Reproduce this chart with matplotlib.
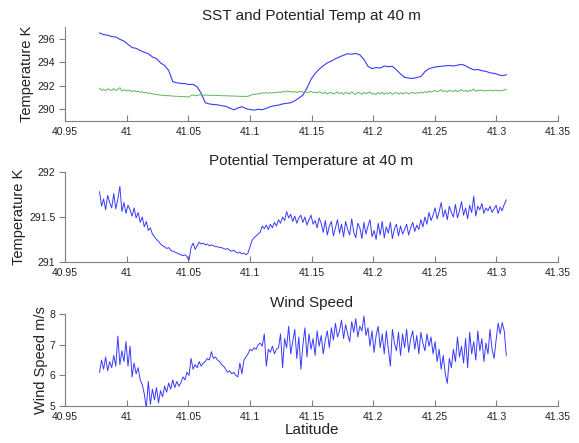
import matplotlib
matplotlib.use("Agg")
import matplotlib.pyplot as plt
import numpy as np

plt.rcParams['font.family'] = ['Liberation Sans', 'DejaVu Sans']

# SST along the track (K), evenly sampled from 40.978 to 41.308 deg N
sst = [296.49, 296.35, 296.30, 296.18, 296.15, 295.95, 295.80, 295.52, 295.25, 295.18,
       295.00, 294.85, 294.72, 294.45, 294.30, 293.95, 293.72, 293.30, 292.35, 292.25,
       292.20, 292.18, 292.10, 292.12, 291.90, 291.35, 290.55, 290.45, 290.40, 290.38,
       290.30, 290.25, 290.10, 289.95, 290.10, 290.22, 290.05, 289.98, 289.92, 290.00,
       289.95, 290.08, 290.22, 290.30, 290.35, 290.45, 290.50, 290.55, 290.72, 290.95,
       291.20, 291.80, 292.55, 293.05, 293.40, 293.70, 293.95, 294.10, 294.30, 294.45,
       294.60, 294.72, 294.68, 294.75, 294.62, 294.25, 293.65, 293.45, 293.55, 293.50,
       293.68, 293.62, 293.65, 293.35, 293.00, 292.72, 292.65, 292.62, 292.70, 292.78,
       293.20, 293.45, 293.55, 293.62, 293.65, 293.70, 293.72, 293.68, 293.75, 293.82,
       293.70, 293.50, 293.35, 293.38, 293.28, 293.22, 293.10, 293.05, 292.95, 292.85,
       292.93]

# potential temperature at 40 m (K)
theta = [291.78, 291.62, 291.70, 291.58, 291.74, 291.66, 291.60, 291.76, 291.59, 291.70,
         291.84, 291.56, 291.66, 291.54, 291.63, 291.58, 291.51, 291.60, 291.49, 291.55,
         291.44, 291.50, 291.39, 291.45, 291.35, 291.38, 291.31, 291.28, 291.25, 291.23,
         291.20, 291.18, 291.17, 291.15, 291.16, 291.13, 291.12, 291.11, 291.10, 291.09,
         291.08, 291.07, 291.08, 291.06, 291.02, 291.16, 291.21, 291.14, 291.18, 291.22,
         291.20, 291.21, 291.19, 291.20, 291.18, 291.19, 291.18, 291.17, 291.17, 291.16,
         291.16, 291.15, 291.14, 291.15, 291.13, 291.12, 291.13, 291.11, 291.10, 291.11,
         291.09, 291.10, 291.08, 291.10, 291.17, 291.24, 291.27, 291.29, 291.31, 291.33,
         291.40, 291.37, 291.41, 291.36, 291.42, 291.38, 291.44, 291.40, 291.47, 291.43,
         291.50, 291.46, 291.56, 291.49, 291.53, 291.45, 291.51, 291.43, 291.49, 291.52,
         291.44, 291.50, 291.41, 291.47, 291.52, 291.42, 291.46, 291.38, 291.49, 291.43,
         291.33, 291.46, 291.30, 291.40, 291.45, 291.29, 291.38, 291.47, 291.32, 291.42,
         291.28, 291.45, 291.36, 291.30, 291.48, 291.33, 291.27, 291.43, 291.38, 291.26,
         291.44, 291.31, 291.40, 291.47, 291.28, 291.35, 291.25, 291.43, 291.30, 291.45,
         291.27, 291.39, 291.32, 291.44, 291.26, 291.37, 291.42, 291.29, 291.40, 291.31,
         291.36, 291.42, 291.30, 291.38, 291.44, 291.34, 291.41, 291.36, 291.47, 291.39,
         291.50, 291.42, 291.55, 291.46, 291.52, 291.60, 291.48, 291.56, 291.66, 291.50,
         291.58, 291.47, 291.62, 291.55, 291.50, 291.64, 291.49, 291.57, 291.67, 291.52,
         291.60, 291.48, 291.63, 291.55, 291.73, 291.51, 291.62, 291.58, 291.65, 291.54,
         291.60, 291.57, 291.62, 291.55, 291.59, 291.63, 291.54, 291.61, 291.57, 291.64,
         291.69]

# wind speed (m/s)
wind = [6.10, 6.50, 6.20, 6.60, 6.15, 6.45, 6.25, 6.65, 6.30, 7.28,
        6.35, 6.80, 6.45, 7.10, 6.30, 6.95, 5.95, 6.40, 6.05, 6.25,
        5.85, 5.70, 5.40, 4.92, 5.80, 5.05, 5.55, 5.20, 5.60, 5.10,
        5.50, 5.30, 5.65, 5.45, 5.75, 5.55, 5.85, 5.60, 5.80, 5.65,
        5.75, 5.95, 5.85, 6.10, 6.00, 6.55, 6.20, 6.35, 6.25, 6.45,
        6.30, 6.40, 6.45, 6.55, 6.50, 6.77, 6.55, 6.60, 6.50, 6.45,
        6.35, 6.30, 6.20, 6.10, 6.15, 6.05, 6.10, 6.00, 5.95, 6.40,
        6.05, 6.50, 6.60, 6.70, 6.85, 6.80, 6.90, 6.85, 7.00, 7.05,
        6.95, 7.35, 6.30, 6.85, 6.75, 6.95, 6.70, 6.85, 6.90, 7.35,
        6.25, 7.20, 6.90, 7.60, 6.70, 7.10, 7.50, 6.55, 7.25, 6.20,
        7.00, 7.55, 6.60, 7.35, 6.85, 7.20, 6.65, 7.45, 6.95, 7.30,
        6.70, 7.15, 7.45, 6.90, 7.55, 7.15, 7.70, 7.25, 7.45, 7.80,
        7.20, 7.65, 7.35, 7.10, 7.75, 7.40, 7.85, 7.25, 7.60, 7.45,
        7.93, 7.30, 7.55, 6.95, 7.45, 6.75, 7.30, 7.60, 6.90, 7.35,
        6.70, 7.45, 6.85, 6.30, 7.50, 7.05, 6.80, 7.40, 6.65, 7.35,
        6.90, 7.50, 6.75, 7.20, 7.45, 6.85, 7.30, 6.70, 7.40, 7.05,
        6.80, 7.35, 6.95, 7.25, 6.70, 7.10, 6.45, 6.85, 6.20, 6.65,
        6.05, 5.74, 6.55, 6.25, 6.85, 6.45, 7.25, 6.60, 6.95, 6.40,
        7.20, 6.25, 7.40, 6.70, 7.10, 6.50, 7.45, 6.80, 7.20, 6.45,
        7.05, 6.70, 7.50, 6.85, 6.55, 7.15, 7.70, 7.35, 7.72, 7.45,
        6.65]

lat_start, lat_end = 40.978, 41.308
lat_sst = np.linspace(lat_start, lat_end, len(sst))
lat_theta = np.linspace(lat_start, lat_end, len(theta))
lat_wind = np.linspace(lat_start, lat_end, len(wind))

xticks = [40.95, 41.0, 41.05, 41.1, 41.15, 41.2, 41.25, 41.3, 41.35]
xticklabels = ['40.95', '41', '41.05', '41.1', '41.15', '41.2', '41.25', '41.3', '41.35']

blue = '#3a3aff'
green = '#5cb85c'
text_col = '#222222'

fig = plt.figure(figsize=(5.79, 4.43), dpi=100)
ax1 = fig.add_axes([0.1123, 0.7269, 0.8515, 0.2122])
ax2 = fig.add_axes([0.1123, 0.4086, 0.8515, 0.2032])
ax3 = fig.add_axes([0.1123, 0.0835, 0.8515, 0.2077])

ax1.plot(lat_sst, sst, color=blue, lw=0.8)
ax1.plot(lat_theta, theta, color=green, lw=0.7)
ax1.set_ylim(289, 297)
ax1.set_yticks([290, 292, 294, 296])
ax1.set_title('SST and Potential Temp at 40 m', fontsize=11, color=text_col, pad=5)
ax1.set_ylabel('Temperature K', fontsize=10.5, color=text_col)
ax1.yaxis.set_label_coords(-0.063, 0.5)

ax2.plot(lat_theta, theta, color=blue, lw=0.7)
ax2.set_ylim(291, 292)
ax2.set_yticks([291, 291.5, 292])
ax2.set_yticklabels(['291', '291.5', '292'])
ax2.set_title('Potential Temperature at 40 m', fontsize=11, color=text_col, pad=5)
ax2.set_ylabel('Temperature K', fontsize=10.5, color=text_col)
ax2.yaxis.set_label_coords(-0.079, 0.5)

ax3.plot(lat_wind, wind, color=blue, lw=0.7)
ax3.set_ylim(5, 8)
ax3.set_yticks([5, 6, 7, 8])
ax3.set_title('Wind Speed', fontsize=11, color=text_col, pad=5)
ax3.set_ylabel('Wind Speed m/s', fontsize=10.5, color=text_col)
ax3.yaxis.set_label_coords(-0.034, 0.5)
ax3.set_xlabel('Latitude', fontsize=11, color=text_col, labelpad=1)

for ax in (ax1, ax2, ax3):
    ax.set_xlim(40.95, 41.35)
    ax.set_xticks(xticks)
    ax.set_xticklabels(xticklabels)
    for side in ('top', 'right'):
        ax.spines[side].set_visible(False)
    for side in ('left', 'bottom'):
        ax.spines[side].set_color('#7f7f7f')
        ax.spines[side].set_linewidth(0.8)
    ax.tick_params(axis='x', direction='in', length=4, width=0.8, color='#7f7f7f',
                   labelsize=7.5, labelcolor=text_col, pad=4)
    ax.tick_params(axis='y', direction='out', length=4, width=0.8, color='#7f7f7f',
                   labelsize=7.5, labelcolor=text_col, pad=3)

fig.savefig('out.png', dpi=100)
